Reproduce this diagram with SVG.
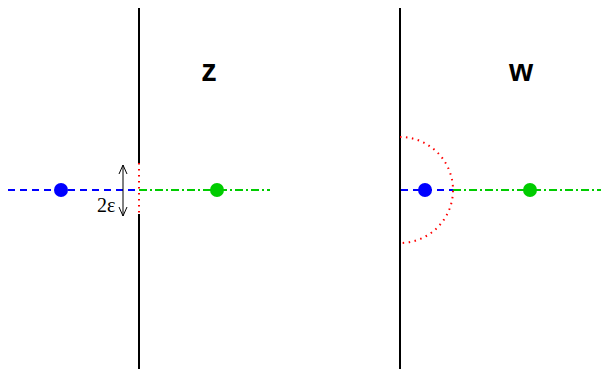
<svg xmlns="http://www.w3.org/2000/svg" width="601" height="369" viewBox="0 0 601 369">
<style>
.axis{stroke:#000;stroke-width:2;fill:none}
.blue{stroke:#0000ff;stroke-width:2;stroke-dasharray:7 5;fill:none}
.green{stroke:#00cc00;stroke-width:2;stroke-dasharray:8 3 2 3;fill:none}
.red{stroke:#ff0000;stroke-width:2;stroke-dasharray:1.5 4.5;fill:none}
.bdot{fill:#0000ff}
.gdot{fill:#00cc00}
.lbl{font-family:"Liberation Sans",Arial,sans-serif;font-weight:bold;font-size:31px;text-anchor:middle}
.eps{font-family:"Liberation Serif","Times New Roman",serif;font-size:20px}
</style>
<defs>
<marker id="ah" markerWidth="10" markerHeight="10" refX="9" refY="5" orient="auto" markerUnits="userSpaceOnUse">
<path d="M0,1 L9,5 L0,9" fill="none" stroke="#000" stroke-width="1"/>
</marker>
</defs>
<g id="connectors">
<path class="axis" d="M139,8 V163 M139,214 V369"/>
<path class="axis" d="M400,8 V369"/>
<path class="blue" d="M8,190 H139"/>
<path class="green" d="M139,190 H270"/>
<path class="red" d="M139,163 V214"/>
<path class="blue" d="M401,190 H453"/>
<path class="green" d="M453,190 H601"/>
<path class="red" d="M400,137 A53,53 0 0 1 400,243"/>
<path d="M123,190 V165" stroke="#000" stroke-width="1" fill="none" marker-end="url(#ah)"/>
<path d="M123,190 V216" stroke="#000" stroke-width="1" fill="none" marker-end="url(#ah)"/>
</g>
<g id="z-blue"><circle class="bdot" cx="61" cy="190" r="7"/></g>
<g id="z-green"><circle class="gdot" cx="217" cy="190" r="7"/></g>
<g id="w-blue"><circle class="bdot" cx="425" cy="190" r="7"/></g>
<g id="w-green"><circle class="gdot" cx="530" cy="190" r="7"/></g>
<g id="label-z"><text class="lbl" x="209" y="81">z</text></g>
<g id="label-w"><text class="lbl" x="521" y="81">w</text></g>
<g id="label-eps"><text class="eps" x="97" y="212">2ε</text></g>
</svg>
